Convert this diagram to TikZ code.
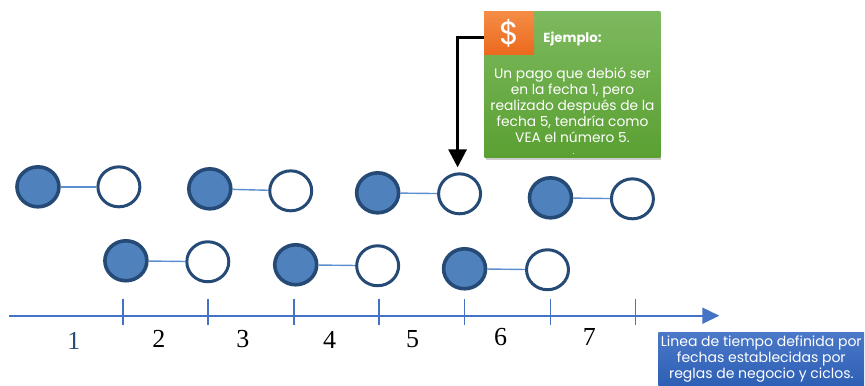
\documentclass[tikz,border=0pt]{standalone}
\usepackage{fontspec}
\setmainfont{Poppins}
\newfontfamily\numberfont{Liberation Serif}
\usetikzlibrary{arrows.meta, shapes.geometric, shadows}
\definecolor{fillblue}{HTML}{4F81BD}
\definecolor{borderblue}{HTML}{254A75}
\definecolor{linkblue}{HTML}{5B8FCF}
\definecolor{axisblue}{HTML}{4472C4}
\definecolor{cardtop}{HTML}{7DB95F}
\definecolor{cardbottom}{HTML}{5AA032}
\definecolor{badgetop}{HTML}{F58C46}
\definecolor{badgebottom}{HTML}{EB691E}
\definecolor{notetop}{HTML}{4B78C8}
\definecolor{notebottom}{HTML}{2D5FB4}

\begin{document}
\begin{tikzpicture}[
			x = 1pt, y = -1pt,
			start/.style = {draw = borderblue, ellipse, line width = 3.6pt, fill = fillblue, minimum width = 42pt, minimum height = 40pt, inner sep = 0pt},
			finish/.style = {start, line width = 3pt, fill = white},
			link/.style = {draw = linkblue, line width = 1.4pt},
			axis/.style = {draw = axisblue, line width = 1.8pt},
			number/.style = {font = \numberfont\fontsize{26}{26}\selectfont},
			card/.style = {rectangle, minimum width = 176pt, minimum height = 146pt, inner sep = 0pt, top color = cardtop, bottom color = cardbottom, drop shadow = {shadow xshift = 1pt, shadow yshift = -2pt, opacity = 0.4}},
			badge/.style = {rectangle, minimum width = 50pt, minimum height = 43pt, inner sep = 0pt, top color = badgetop, bottom color = badgebottom},
			note/.style = {rectangle, minimum width = 206pt, minimum height = 53pt, inner sep = 0pt, top color = notetop, bottom color = notebottom},
			cardtext/.style = {text = white, align = center, font = \fontsize{13.8}{16}\selectfont}]

			% Green example
			\node[card] (card) at (573, 85) {};
			\node[badge] (icon) at (509.5, 33.5) {};
			\node[text = white, font = \fontsize{32}{32}\selectfont] (dollar) at (icon.center) {\$};
			\node[cardtext, font = \bfseries\fontsize{13.2}{14}\selectfont] (title) at (573, 39) {Ejemplo:};
			\node[cardtext] (body) at (573, 105) {Un pago que debió ser\\en la fecha 1, pero\\realizado después de la\\fecha 5, tendría como\\VEA el número 5.};
			\node[cardtext, inner sep = 0pt, font = \fontsize{9}{9}\selectfont] (dot) at (574, 154) {.};

			% Upper row
			\node[start] (a1) at (38, 187) {};
			\node[finish] (b1) at (119, 187) {};
			\node[start] (a2) at (210, 189) {};
			\node[finish] (b2) at (291, 191) {};
			\node[start] (a3) at (378, 193) {};
			\node[finish] (b3) at (460, 194) {};
			\node[start] (a4) at (551, 198) {};
			\node[finish] (b4) at (633, 199) {};

			% Lower row
			\node[start] (a5) at (126, 261) {};
			\node[finish] (b5) at (208, 262) {};
			\node[start] (a6) at (296, 265) {};
			\node[finish] (b6) at (378, 266) {};
			\node[start] (a7) at (465, 269) {};
			\node[finish] (b7) at (548, 270) {};

			\draw[link] (a1) -- (b1);
			\draw[link] (a2) -- (b2);
			\draw[link] (a3) -- (b3);
			\draw[link] (a4) -- (b4);
			\draw[link] (a5) -- (b5);
			\draw[link] (a6) -- (b6);
			\draw[link] (a7) -- (b7);

			\coordinate (turn) at (458, 38);
			\draw[line width = 3pt, shorten > = 5pt, -{Triangle[width = 18pt, length = 18pt]}] (icon.west |- turn) -- (turn) -- (b3.north -| turn);

			% Time line
			\coordinate (origin) at (9, 316);
			\coordinate (tip) at (720, 316);
			\draw[axis, -{Triangle[width = 16pt, length = 17pt]}] (origin) -- (tip);
			\draw[axis] (123, 299) -- (123, 325);
			\draw[axis] (208, 299) -- (208, 325);
			\draw[axis] (294, 299) -- (294, 325);
			\draw[axis] (379, 299) -- (379, 325);
			\draw[axis] (465, 299) -- (465, 325);
			\draw[axis] (551, 299) -- (551, 325);
			\draw[axis] (636, 299) -- (636, 325);

			% Labels
			\node[number, text = borderblue] (n1) at (74, 341) {1};
			\node[number] (n2) at (159, 339) {2};
			\node[number] (n3) at (243, 339) {3};
			\node[number] (n4) at (330, 340) {4};
			\node[number] (n5) at (413, 339) {5};
			\node[number] (n6) at (501, 337) {6};
			\node[number] (n7) at (590, 337) {7};

			\node[note] (noteb) at (762, 359.5) {};
			\node[cardtext, font = \fontsize{14}{16.2}\selectfont] (notetext) at (noteb.center) {Linea de tiempo definida por\\fechas establecidas por\\reglas de negocio y ciclos.};
			\useasboundingbox (0, 0) rectangle (865, 386);
		\end{tikzpicture}
\end{document}
